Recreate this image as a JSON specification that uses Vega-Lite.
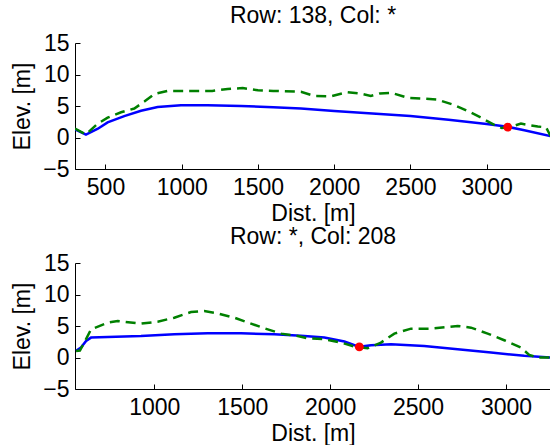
{
  "$schema": "https://vega.github.io/schema/vega-lite/v6.json",
  "padding": {"left": 11, "top": 5, "right": 0, "bottom": 0},
  "autosize": {"type": "pad"},
  "spacing": 94,
  "bounds": "flush",
  "config": {
    "font": "Liberation Sans",
    "view": {"stroke": null},
    "axis": {"grid": false, "domainColor": "#000", "tickColor": "#000", "labelColor": "#000", "titleColor": "#000", "labelFont": "Liberation Sans", "titleFont": "Liberation Sans", "labelFontSize": 23, "titleFontSize": 23, "titleFontWeight": "normal", "tickSize": -5, "domainWidth": 1, "tickWidth": 1},
    "title": {"fontSize": 23, "fontWeight": "normal", "color": "#000", "font": "Liberation Sans"}
  },
  "datasets": {
    "top": [
      {"series": "model", "d": 300, "v": 1.3}, {"series": "model", "d": 372, "v": 0.45}, {"series": "model", "d": 450, "v": 1.4}, {"series": "model", "d": 514, "v": 2.4}, {"series": "model", "d": 623, "v": 3.4}, {"series": "model", "d": 733, "v": 4.25}, {"series": "model", "d": 842, "v": 4.85}, {"series": "model", "d": 995, "v": 5.1}, {"series": "model", "d": 1170, "v": 5.1}, {"series": "model", "d": 1389, "v": 5.0}, {"series": "model", "d": 1600, "v": 4.8}, {"series": "model", "d": 1782, "v": 4.6}, {"series": "model", "d": 2000, "v": 4.2}, {"series": "model", "d": 2250, "v": 3.8}, {"series": "model", "d": 2500, "v": 3.4}, {"series": "model", "d": 2750, "v": 2.8}, {"series": "model", "d": 3000, "v": 2.15}, {"series": "model", "d": 3138, "v": 1.7}, {"series": "model", "d": 3247, "v": 1.15}, {"series": "model", "d": 3420, "v": 0.2},
      {"series": "terrain", "d": 300, "v": 1.4}, {"series": "terrain", "d": 372, "v": 0.5}, {"series": "terrain", "d": 449, "v": 2.2}, {"series": "terrain", "d": 514, "v": 3.15}, {"series": "terrain", "d": 602, "v": 4.0}, {"series": "terrain", "d": 689, "v": 4.6}, {"series": "terrain", "d": 755, "v": 5.7}, {"series": "terrain", "d": 820, "v": 6.9}, {"series": "terrain", "d": 908, "v": 7.4}, {"series": "terrain", "d": 1000, "v": 7.4}, {"series": "terrain", "d": 1200, "v": 7.4}, {"series": "terrain", "d": 1301, "v": 7.7}, {"series": "terrain", "d": 1400, "v": 7.85}, {"series": "terrain", "d": 1500, "v": 7.5}, {"series": "terrain", "d": 1600, "v": 7.4}, {"series": "terrain", "d": 1782, "v": 7.25}, {"series": "terrain", "d": 1868, "v": 6.6}, {"series": "terrain", "d": 1979, "v": 6.55}, {"series": "terrain", "d": 2088, "v": 7.2}, {"series": "terrain", "d": 2176, "v": 6.95}, {"series": "terrain", "d": 2240, "v": 6.6}, {"series": "terrain", "d": 2300, "v": 7.0}, {"series": "terrain", "d": 2373, "v": 7.1}, {"series": "terrain", "d": 2482, "v": 6.3}, {"series": "terrain", "d": 2570, "v": 6.2}, {"series": "terrain", "d": 2679, "v": 6.0}, {"series": "terrain", "d": 2788, "v": 5.15}, {"series": "terrain", "d": 2876, "v": 4.2}, {"series": "terrain", "d": 2963, "v": 3.15}, {"series": "terrain", "d": 3050, "v": 2.0}, {"series": "terrain", "d": 3100, "v": 1.5}, {"series": "terrain", "d": 3160, "v": 1.7}, {"series": "terrain", "d": 3225, "v": 2.2}, {"series": "terrain", "d": 3335, "v": 1.75}, {"series": "terrain", "d": 3390, "v": 1.6}, {"series": "terrain", "d": 3420, "v": 0.2},
      {"series": "point", "d": 3138, "v": 1.65}
    ],
    "bottom": [
      {"series": "model", "d": 555, "v": 1.05}, {"series": "model", "d": 583, "v": 1.58}, {"series": "model", "d": 612, "v": 2.63}, {"series": "model", "d": 640, "v": 3.16}, {"series": "model", "d": 735, "v": 3.27}, {"series": "model", "d": 924, "v": 3.42}, {"series": "model", "d": 1114, "v": 3.69}, {"series": "model", "d": 1304, "v": 3.84}, {"series": "model", "d": 1493, "v": 3.84}, {"series": "model", "d": 1682, "v": 3.69}, {"series": "model", "d": 1834, "v": 3.45}, {"series": "model", "d": 1967, "v": 3.16}, {"series": "model", "d": 2081, "v": 2.53}, {"series": "model", "d": 2166, "v": 1.69}, {"series": "model", "d": 2232, "v": 1.95}, {"series": "model", "d": 2346, "v": 2.1}, {"series": "model", "d": 2535, "v": 1.84}, {"series": "model", "d": 2725, "v": 1.32}, {"series": "model", "d": 2915, "v": 0.79}, {"series": "model", "d": 3104, "v": 0.26}, {"series": "model", "d": 3256, "v": 0.0},
      {"series": "terrain", "d": 555, "v": 1.05}, {"series": "terrain", "d": 577, "v": 1.1}, {"series": "terrain", "d": 602, "v": 2.37}, {"series": "terrain", "d": 640, "v": 4.47}, {"series": "terrain", "d": 735, "v": 5.53}, {"series": "terrain", "d": 792, "v": 5.8}, {"series": "terrain", "d": 924, "v": 5.37}, {"series": "terrain", "d": 1019, "v": 5.69}, {"series": "terrain", "d": 1114, "v": 6.32}, {"series": "terrain", "d": 1209, "v": 7.21}, {"series": "terrain", "d": 1284, "v": 7.37}, {"series": "terrain", "d": 1360, "v": 7.0}, {"series": "terrain", "d": 1455, "v": 6.32}, {"series": "terrain", "d": 1550, "v": 5.37}, {"series": "terrain", "d": 1645, "v": 4.47}, {"series": "terrain", "d": 1721, "v": 3.79}, {"series": "terrain", "d": 1816, "v": 3.42}, {"series": "terrain", "d": 1872, "v": 3.05}, {"series": "terrain", "d": 1967, "v": 2.9}, {"series": "terrain", "d": 2062, "v": 2.37}, {"series": "terrain", "d": 2137, "v": 1.74}, {"series": "terrain", "d": 2213, "v": 1.47}, {"series": "terrain", "d": 2289, "v": 2.37}, {"series": "terrain", "d": 2365, "v": 3.79}, {"series": "terrain", "d": 2460, "v": 4.58}, {"series": "terrain", "d": 2573, "v": 4.58}, {"series": "terrain", "d": 2725, "v": 5.0}, {"series": "terrain", "d": 2801, "v": 4.74}, {"series": "terrain", "d": 2896, "v": 3.79}, {"series": "terrain", "d": 2990, "v": 2.74}, {"series": "terrain", "d": 3085, "v": 1.58}, {"series": "terrain", "d": 3132, "v": 0.42}, {"series": "terrain", "d": 3180, "v": 0.0}, {"series": "terrain", "d": 3256, "v": 0.0},
      {"series": "point", "d": 2166, "v": 1.69}
    ]
  },
  "vconcat": [
    {
      "title": {"text": "Row: 138, Col: *", "offset": 4},
      "width": 476,
      "height": 126,
      "data": {"name": "top"},
      "encoding": {
        "x": {"field": "d", "type": "quantitative", "scale": {"domain": [300, 3422], "nice": false}, "axis": {"title": "Dist. [m]", "format": "d", "values": [500, 1000, 1500, 2000, 2500, 3000], "labelPadding": 12, "titlePadding": 3}},
        "y": {"field": "v", "type": "quantitative", "scale": {"domain": [-5, 15], "nice": false}, "axis": {"title": "Elev. [m]", "values": [-5, 0, 5, 10, 15], "labelPadding": 11, "titlePadding": 8}}
      },
      "layer": [
        {"transform": [{"filter": "datum.series === 'model'"}], "mark": {"type": "line", "color": "#0000ff", "strokeWidth": 2.5, "clip": true}},
        {"transform": [{"filter": "datum.series === 'terrain'"}], "mark": {"type": "line", "color": "#008000", "strokeWidth": 2.5, "strokeDash": [10, 6], "clip": true}},
        {"transform": [{"filter": "datum.series === 'point'"}], "mark": {"type": "point", "filled": true, "color": "#ff0000", "opacity": 1, "size": 80}}
      ]
    },
    {
      "title": {"text": "Row: *, Col: 208", "offset": 3},
      "width": 476,
      "height": 126,
      "data": {"name": "bottom"},
      "encoding": {
        "x": {"field": "d", "type": "quantitative", "scale": {"domain": [549, 3256], "nice": false}, "axis": {"title": "Dist. [m]", "format": "d", "values": [1000, 1500, 2000, 2500, 3000], "labelPadding": 12, "titlePadding": 3}},
        "y": {"field": "v", "type": "quantitative", "scale": {"domain": [-5, 15], "nice": false}, "axis": {"title": "Elev. [m]", "values": [-5, 0, 5, 10, 15], "labelPadding": 11, "titlePadding": 8}}
      },
      "layer": [
        {"transform": [{"filter": "datum.series === 'model'"}], "mark": {"type": "line", "color": "#0000ff", "strokeWidth": 2.5, "clip": true}},
        {"transform": [{"filter": "datum.series === 'terrain'"}], "mark": {"type": "line", "color": "#008000", "strokeWidth": 2.5, "strokeDash": [10, 6], "clip": true}},
        {"transform": [{"filter": "datum.series === 'point'"}], "mark": {"type": "point", "filled": true, "color": "#ff0000", "opacity": 1, "size": 80}}
      ]
    }
  ]
}
